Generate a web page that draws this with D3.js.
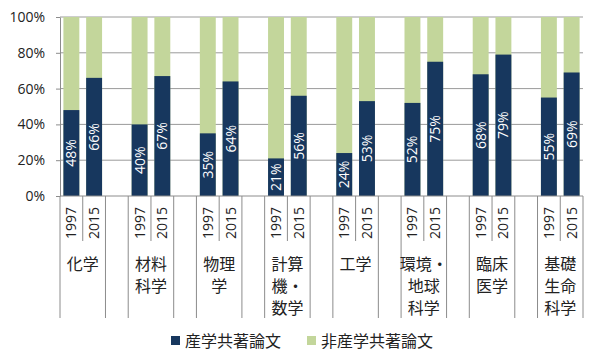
<!DOCTYPE html>
<html>
<head>
<meta charset="utf-8">
<script src="https://cdn.jsdelivr.net/npm/d3@7"></script>
<style>
  body { margin: 0; background: #fff; }
  svg { display: block; }
  text { font-family: "Open Sans", "Noto Sans CJK JP", sans-serif; }
  .cjk { font-family: "Noto Sans CJK JP", sans-serif; }
</style>
</head>
<body>
<div id="chart"></div>
<script>
const categories = [["化学"], ["材料", "科学"], ["物理", "学"], ["計算", "機・", "数学"],
                    ["工学"], ["環境・", "地球", "科学"], ["臨床", "医学"], ["基礎", "生命", "科学"]];
const years = ["1997", "2015"];
const industry = [[48, 66], [40, 67], [35, 64], [21, 56], [24, 53], [52, 75], [68, 79], [55, 69]];
const yTicks = [0, 20, 40, 60, 80, 100];
const seriesNames = ["産学共著論文", "非産学共著論文"];
const colors = ["#17375E", "#C3D69B"];

const W = 600, H = 364;
const plotLeft = 60, plotRight = 583, plotTop = 17, plotBottom = 196;

// slots: 1997, 2015, gap ... (no gap after last)
const slots = [];
categories.forEach((c, i) => {
    years.forEach(y => slots.push(i + "-" + y));
    if (i < categories.length - 1) slots.push(i + "-gap");
});

const svg = d3.select("#chart").append("svg")
    .attr("width", W).attr("height", H);

const x = d3.scaleBand().domain(slots).range([plotLeft, plotRight]);
const y = d3.scaleLinear().domain([0, 100]).range([plotBottom, plotTop]);
const bw = x.bandwidth() * 0.7;

// grid
svg.append("g")
    .selectAll("line")
    .data(yTicks.filter(d => d > 0))
    .enter().append("line")
    .attr("x1", plotLeft).attr("x2", plotRight)
    .attr("y1", d => y(d)).attr("y2", d => y(d))
    .attr("stroke", "#9a9a9a").attr("stroke-width", 1);

// y axis
const yAxis = svg.append("g")
    .attr("transform", `translate(${plotLeft},0)`)
    .call(d3.axisLeft(y).tickValues(yTicks).tickFormat(d => d + "%").tickSize(4).tickSizeOuter(0));
yAxis.select(".domain").attr("stroke", "#8c8c8c");
yAxis.selectAll(".tick line").attr("stroke", "#8c8c8c");
yAxis.selectAll("text").attr("font-size", 14).attr("fill", "#222").attr("x", -15)
    .style("font-family", "'Open Sans', sans-serif");

// bars
const barData = [];
categories.forEach((c, i) => {
    years.forEach((yr, j) => barData.push({ key: i + "-" + yr, v: industry[i][j] }));
});

svg.append("g").selectAll("rect")
    .data(barData).enter().append("rect")
    .attr("x", d => x(d.key) + (x.bandwidth() - bw) / 2)
    .attr("y", y(100))
    .attr("width", bw)
    .attr("height", y(0) - y(100))
    .attr("fill", colors[1]);

svg.append("g").selectAll("rect")
    .data(barData).enter().append("rect")
    .attr("x", d => x(d.key) + (x.bandwidth() - bw) / 2)
    .attr("y", d => y(d.v))
    .attr("width", bw)
    .attr("height", d => y(0) - y(d.v))
    .attr("fill", colors[0]);

// labels in bars
svg.append("g").selectAll("text")
    .data(barData).enter().append("text")
    .attr("transform", d => `translate(${x(d.key) + x.bandwidth() / 2 + 5},${(y(d.v) + y(0)) / 2}) rotate(-90)`)
    .attr("text-anchor", "middle")
    .attr("font-size", 14)
    .attr("fill", "#fff")
    .text(d => d.v + "%");

// x axis line
svg.append("line")
    .attr("x1", plotLeft).attr("x2", plotRight)
    .attr("y1", plotBottom).attr("y2", plotBottom)
    .attr("stroke", "#8c8c8c");

// separators
const axisG = svg.append("g").attr("stroke", "#8c8c8c");
categories.forEach((c, i) => {
    const x0 = x(i + "-" + years[0]);
    const x1 = x(i + "-" + years[1]);
    const x2 = x1 + x.bandwidth();
    axisG.append("line").attr("x1", x0).attr("x2", x0).attr("y1", plotBottom).attr("y2", 318);
    axisG.append("line").attr("x1", x1).attr("x2", x1).attr("y1", plotBottom).attr("y2", 241);
    axisG.append("line").attr("x1", x2).attr("x2", x2).attr("y1", plotBottom).attr("y2", 318);
});

// year labels
svg.append("g").selectAll("text")
    .data(barData).enter().append("text")
    .attr("transform", d => `translate(${x(d.key) + x.bandwidth() / 2 + 5},223) rotate(-90)`)
    .attr("text-anchor", "middle")
    .attr("font-size", 14)
    .attr("fill", "#222")
    .text(d => d.key.split("-")[1]);

// category labels
categories.forEach((lines, i) => {
    const cx = x(i + "-" + years[1]);
    const t = svg.append("text")
        .attr("class", "cjk")
        .attr("x", cx)
        .attr("text-anchor", "middle")
        .attr("font-size", 16)
        .attr("fill", "#222");
    lines.forEach((l, k) => {
        t.append("tspan").attr("x", cx).attr("y", 270 + k * 22).text(l);
    });
});

// legend
const legend = svg.append("g");
const legendX = [171, 307];
seriesNames.forEach((name, i) => {
    legend.append("rect")
        .attr("x", legendX[i]).attr("y", 336)
        .attr("width", 9).attr("height", 9)
        .attr("fill", colors[i]);
    legend.append("text")
        .attr("class", "cjk")
        .attr("x", legendX[i] + 14).attr("y", 347)
        .attr("font-size", 16)
        .attr("fill", "#222")
        .text(name);
});
</script>
</body>
</html>
